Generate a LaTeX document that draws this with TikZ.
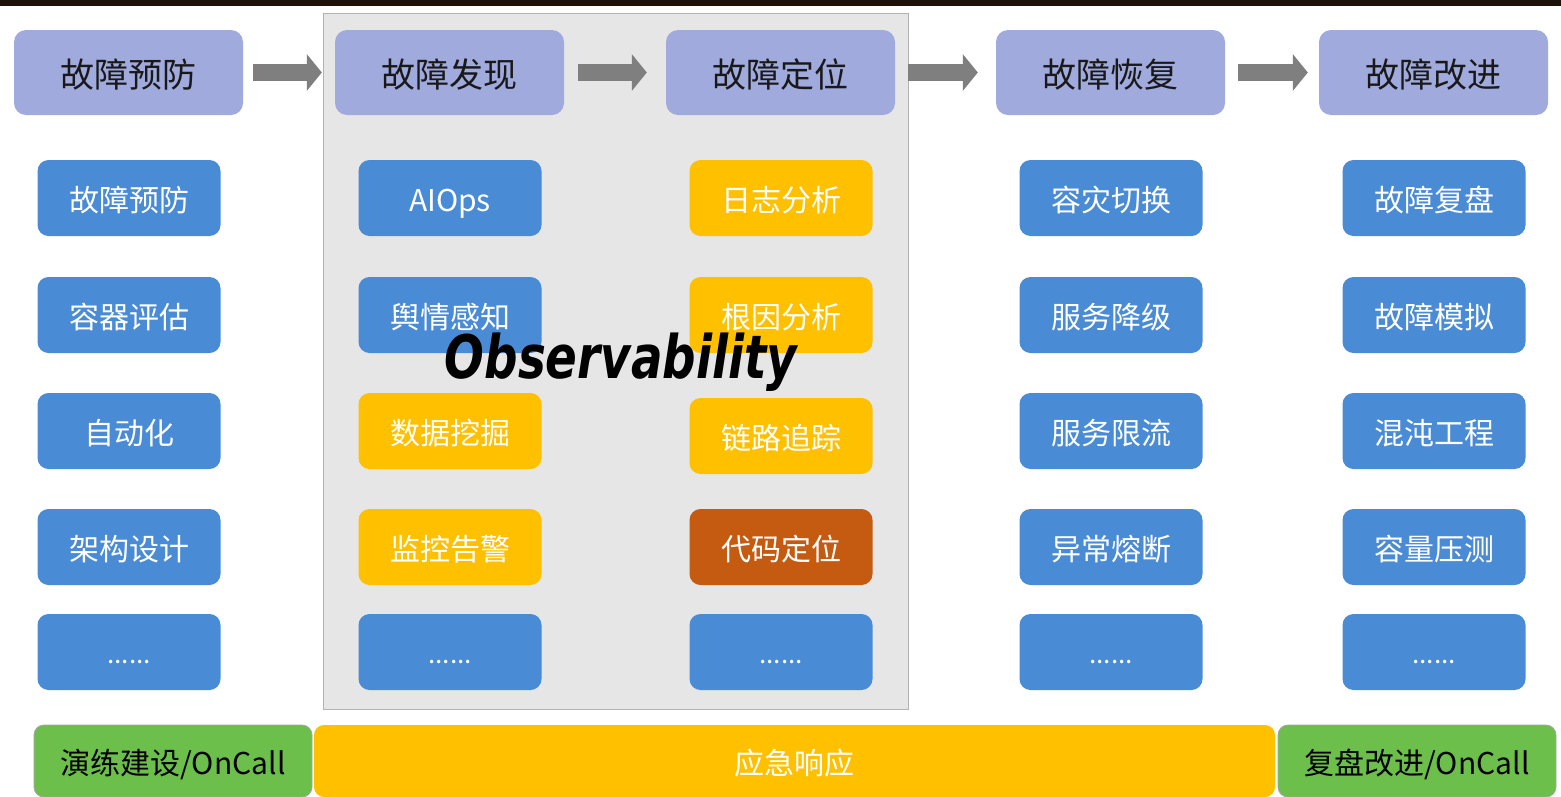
\documentclass[tikz,border=0pt]{standalone}
\usepackage{fontspec}
\setmainfont{Noto Sans CJK SC}
\newfontfamily\obsfont{DejaVu Sans}
\usetikzlibrary{arrows.meta}
\definecolor{hdr}{HTML}{A0AADC}
\definecolor{blu}{HTML}{4A8BD6}
\definecolor{yel}{HTML}{FFC000}
\definecolor{brn}{HTML}{C55A11}
\definecolor{grn}{HTML}{6BBF4A}
\definecolor{pnl}{HTML}{E6E6E6}
\definecolor{arr}{HTML}{7F7F7F}
\tikzset{
  hbox/.style={fill=hdr,rounded corners=12pt,minimum width=229pt,minimum height=85pt,inner sep=0pt,text=black!90,font=\fontsize{34}{40}\selectfont,text height=30pt,text depth=0pt},
  cbox/.style={rounded corners=11pt,minimum width=183pt,minimum height=76pt,inner sep=0pt,text=white,font=\fontsize{30}{36}\selectfont,text height=27pt,text depth=0pt},
  bbox/.style={cbox,fill=blu},
  ybox/.style={cbox,fill=yel},
  obox/.style={cbox,fill=brn},
  dots/.style={cbox,fill=blu,font=\fontsize{26}{28}\selectfont,text height=0pt,text depth=0pt},
  flow/.style={draw=arr,line width=17pt,-{Triangle[length=15pt,width=36pt]}},
  gbar/.style={fill=grn,draw=black!35,line width=0.8pt,rounded corners=10pt,minimum height=72pt,inner sep=0pt,text=black,font=\fontsize{30}{36}\selectfont,text height=26pt,text depth=0pt},
}
\begin{document}
\begin{tikzpicture}[x=1pt,y=-1pt]
\useasboundingbox (0,0) rectangle (1561,796);
\fill[white] (0,0) rectangle (1561,796);
\fill[black!85!brown] (0,0) rectangle (1561,6);
% panel
\node[draw=black!30,fill=pnl,line width=1pt,minimum width=585pt,minimum height=696pt,inner sep=0pt] (panel) at (615.5,361) {};
% headers
\node[hbox] (h1) at (128.5,72.5) {故障预防};
\node[hbox] (h2) at (449.5,72.5) {故障发现};
\node[hbox] (h3) at (780.5,72.5) {故障定位};
\node[hbox] (h4) at (1110.5,72.5) {故障恢复};
\node[hbox] (h5) at (1433.5,72.5) {故障改进};
\draw[flow] ([xshift=10pt]h1.east) -- ([xshift=-13pt]h2.west);
\draw[flow] ([xshift=14pt]h2.east) -- ([xshift=-19pt]h3.west);
\draw[flow] ([xshift=13pt]h3.east) -- ([xshift=-18pt]h4.west);
\draw[flow] ([xshift=13pt]h4.east) -- ([xshift=-11pt]h5.west);
% column 1
\node[bbox] (a1) at (129,198) {故障预防};
\node[bbox] (a2) at (129,315) {容器评估};
\node[bbox] (a3) at (129,431) {自动化};
\node[bbox] (a4) at (129,547) {架构设计};
\node[dots] (a5) at (129,652) {\raisebox{-11pt}{......}};
% column 2
\node[bbox] (b1) at (450,198) {AIOps};
\node[bbox] (b2) at (450,315) {舆情感知};
\node[ybox] (b3) at (450,431) {数据挖掘};
\node[ybox] (b4) at (450,547) {监控告警};
\node[dots] (b5) at (450,652) {\raisebox{-11pt}{......}};
% column 3
\node[ybox] (c1) at (781,198) {日志分析};
\node[ybox] (c2) at (781,315) {根因分析};
\node[ybox] (c3) at (781,436) {链路追踪};
\node[obox] (c4) at (781,547) {代码定位};
\node[dots] (c5) at (781,652) {\raisebox{-11pt}{......}};
% column 4
\node[bbox] (d1) at (1111,198) {容灾切换};
\node[bbox] (d2) at (1111,315) {服务降级};
\node[bbox] (d3) at (1111,431) {服务限流};
\node[bbox] (d4) at (1111,547) {异常熔断};
\node[dots] (d5) at (1111,652) {\raisebox{-11pt}{......}};
% column 5
\node[bbox] (e1) at (1434,198) {故障复盘};
\node[bbox] (e2) at (1434,315) {故障模拟};
\node[bbox] (e3) at (1434,431) {混沌工程};
\node[bbox] (e4) at (1434,547) {容量压测};
\node[dots] (e5) at (1434,652) {\raisebox{-11pt}{......}};
% observability
\node[inner sep=0pt,text=black,font=\obsfont\bfseries\itshape\fontsize{60}{62}\selectfont] (obs) at (621,362) {\scalebox{0.78}[1]{Observability}};
% bottom bars
\node[gbar,minimum width=278pt] (g1) at (173,761) {演练建设/OnCall};
\node[fill=yel,rounded corners=10pt,minimum width=961pt,minimum height=72pt,inner sep=0pt,text=white,font=\fontsize{30}{36}\selectfont,text height=26pt,text depth=0pt] (y1) at (794.5,761) {应急响应};
\node[gbar,minimum width=278pt] (g2) at (1417,761) {复盘改进/OnCall};
\end{tikzpicture}
\end{document}
